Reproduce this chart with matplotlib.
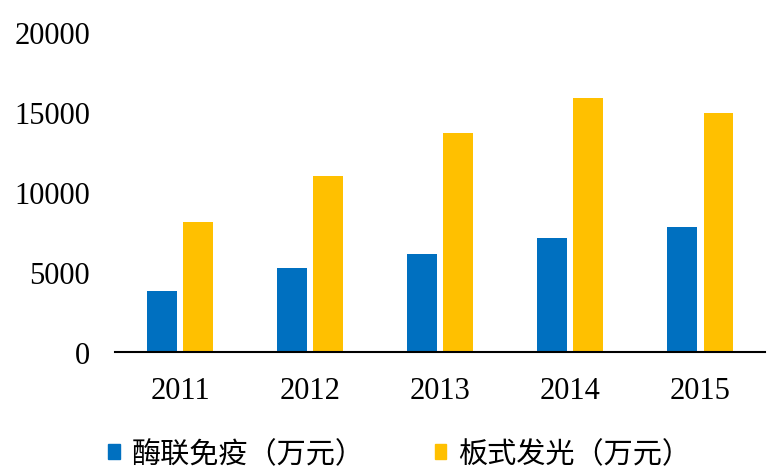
import matplotlib
matplotlib.use("Agg")
import matplotlib.pyplot as plt
from matplotlib.patches import Patch
import numpy as np

years = ["2011", "2012", "2013", "2014", "2015"]
elisa = [3800, 5250, 6150, 7100, 7830]
clia = [8130, 11000, 13700, 15850, 14950]
labels = ["酶联免疫（万元）", "板式发光（万元）"]
colors = ["#0070C0", "#FFC000"]

fig = plt.figure(figsize=(7.73, 4.77), dpi=100)
ax = fig.add_axes([0.149, 0.26, 0.841, 0.671])
x = np.arange(len(years))
w = 0.23
off = 0.14
ax.bar(x - off, elisa, w, color=colors[0])
ax.bar(x + off, clia, w, color=colors[1])
ax.set_xlim(-0.5, len(years) - 0.5)
ax.set_ylim(0, 20000)
ax.set_yticks([0, 5000, 10000, 15000, 20000])
ax.set_yticklabels(["0", "5000", "10000", "15000", "20000"], family="Liberation Serif", fontsize=22)
ax.set_xticks(x)
ax.set_xticklabels(years, family="Liberation Serif", fontsize=22)
for s in ["top", "right", "left"]:
    ax.spines[s].set_visible(False)
ax.spines["bottom"].set_linewidth(1.5)
ax.tick_params(axis="y", length=0, pad=18)
ax.tick_params(axis="x", length=0, pad=17)

handles = [Patch(color=c) for c in colors]
fig.legend(handles, labels, loc="center", bbox_to_anchor=(0.517, 0.046), ncol=2, frameon=False,
           prop={"family": ["Noto Sans CJK SC", "DejaVu Sans"], "size": 21},
           handlelength=0.4, handleheight=0.4, handletextpad=0.4, columnspacing=2.4)
fig.savefig("out.png", dpi=100)
